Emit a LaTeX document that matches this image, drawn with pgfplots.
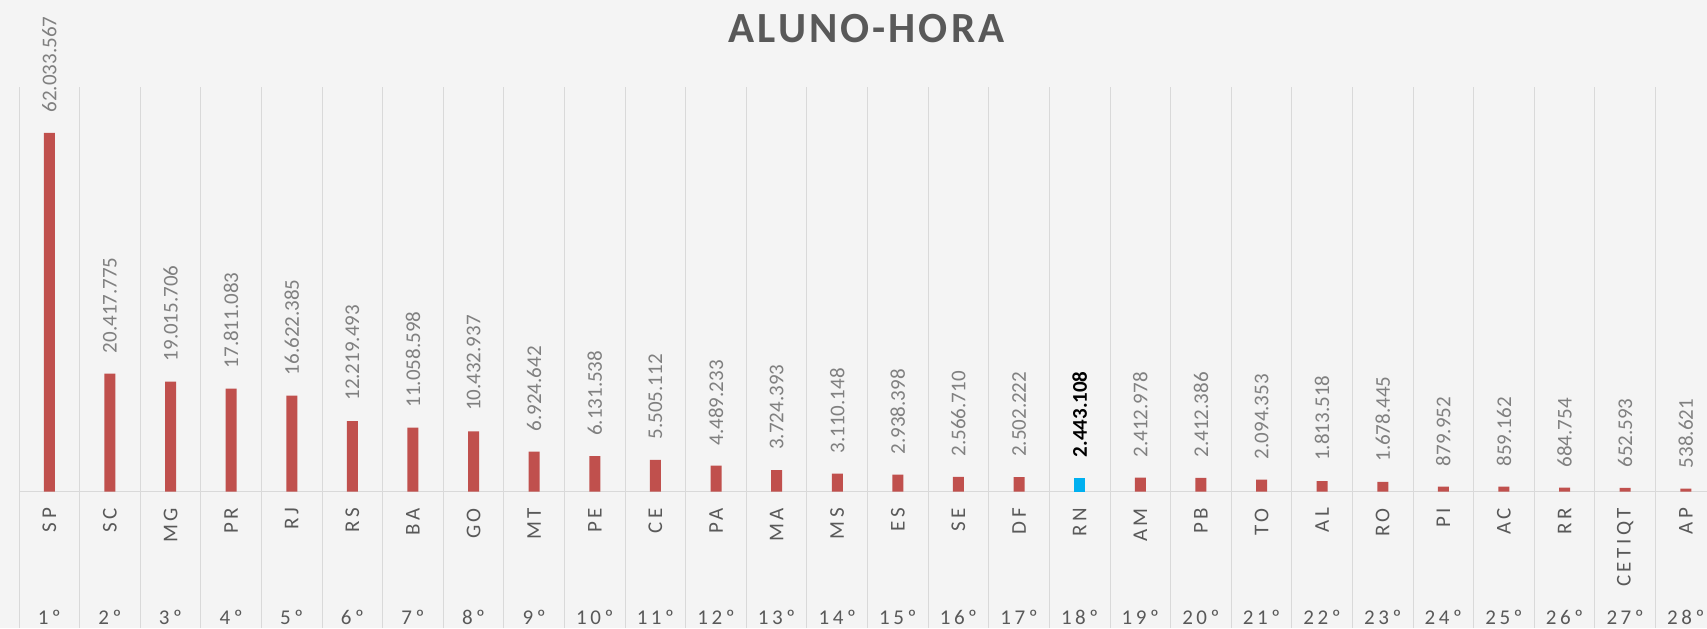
\documentclass[border=0pt]{standalone}
\usepackage{fontspec}
\setmainfont{Carlito}
\newfontfamily\spacedfont[LetterSpace=17]{Carlito}
\newfontfamily\titlefont[LetterSpace=7]{Carlito}
\usepackage{pgfplots}
\usepackage{pgfplotstable}
\pgfplotsset{compat=1.18}

\definecolor{bg}{HTML}{F4F4F4}
\definecolor{gridc}{HTML}{D9D9D9}
\definecolor{barred}{HTML}{C0504D}
\definecolor{barblue}{HTML}{00B0F0}
\definecolor{labgray}{HTML}{808080}
\definecolor{txtgray}{HTML}{595959}

% aluno-hora por estado (RN separado, destacado)
\pgfplotstableread{
idx val lab
0 62033567 62.033.567
1 20417775 20.417.775
2 19015706 19.015.706
3 17811083 17.811.083
4 16622385 16.622.385
5 12219493 12.219.493
6 11058598 11.058.598
7 10432937 10.432.937
8 6924642 6.924.642
9 6131538 6.131.538
10 5505112 5.505.112
11 4489233 4.489.233
12 3724393 3.724.393
13 3110148 3.110.148
14 2938398 2.938.398
15 2566710 2.566.710
16 2502222 2.502.222
18 2412978 2.412.978
19 2412386 2.412.386
20 2094353 2.094.353
21 1813518 1.813.518
22 1678445 1.678.445
23 879952 879.952
24 859162 859.162
25 684754 684.754
26 652593 652.593
27 538621 538.621
}\alunotable

\pgfplotstableread{
idx val lab
17 2443108 2.443.108
}\rntable

\begin{document}
\begin{tikzpicture}
\fill[bg] (0,0) rectangle (853.5pt,314pt);
\node[anchor=base, text=txtgray, font=\titlefont\bfseries\fontsize{21.5}{24}\selectfont]
  at (433.3pt,292.6pt) {ALUNO-HORA};
\begin{axis}[
    at={(9.5pt,68.15pt)}, anchor=south west,
    scale only axis, width=844pt, height=202.5pt,
    xmin=-0.5, xmax=27.35, ymin=0, ymax=70000000,
    axis x line*=bottom, axis y line=none,
    ytick=\empty, scaled y ticks=false,
    axis line style={draw=gridc, line width=0.6pt},
    clip=false,
    tick label style={font=\spacedfont\fontsize{10.5}{12}\selectfont, text=txtgray},
    xtick={0,...,27},
    xticklabels={1º,2º,3º,4º,5º,6º,7º,8º,9º,10º,11º,12º,13º,14º,15º,16º,17º,18º,19º,20º,21º,22º,23º,24º,25º,26º,27º,28º},
    xticklabel style={anchor=north, inner sep=0pt, inner ysep=59pt},
    extra x ticks={0,...,27},
    extra x tick labels={SP,SC,MG,PR,RJ,RS,BA,GO,MT,PE,CE,PA,MA,MS,ES,SE,DF,RN,AM,PB,TO,AL,RO,PI,AC,RR,CETIQT,AP},
    extra x tick style={xticklabel style={rotate=90, anchor=east, inner sep=0pt, inner xsep=8pt}},
    minor xtick={-0.5,0.5,...,26.5},
    xminorgrids=true,
    minor x grid style={draw=gridc, line width=0.5pt},
    tick align=outside,
    major tick length=0pt,
    minor tick length=68.2pt,
    minor tick style={draw=gridc, line width=0.5pt},
]
\addplot[ybar, fill=barred, draw=none, bar width=5.5pt, bar shift=0pt,
    point meta=explicit symbolic, nodes near coords={\pgfplotspointmeta},
    every node near coord/.append style={rotate=90, anchor=west, inner sep=0pt, inner xsep=10pt,
        font=\fontsize{10.5}{12}\selectfont, text=labgray}]
    table[x=idx, y=val, meta=lab] {\alunotable};
\addplot[ybar, fill=barblue, draw=none, bar width=5.5pt, bar shift=0pt,
    point meta=explicit symbolic, nodes near coords={\pgfplotspointmeta},
    every node near coord/.append style={rotate=90, anchor=west, inner sep=0pt, inner xsep=10pt,
        font=\bfseries\fontsize{10.5}{12}\selectfont, text=black}]
    table[x=idx, y=val, meta=lab] {\rntable};
\end{axis}
\pgfresetboundingbox
\path (0,0) rectangle (853.5pt,314pt);
\end{tikzpicture}
\end{document}
